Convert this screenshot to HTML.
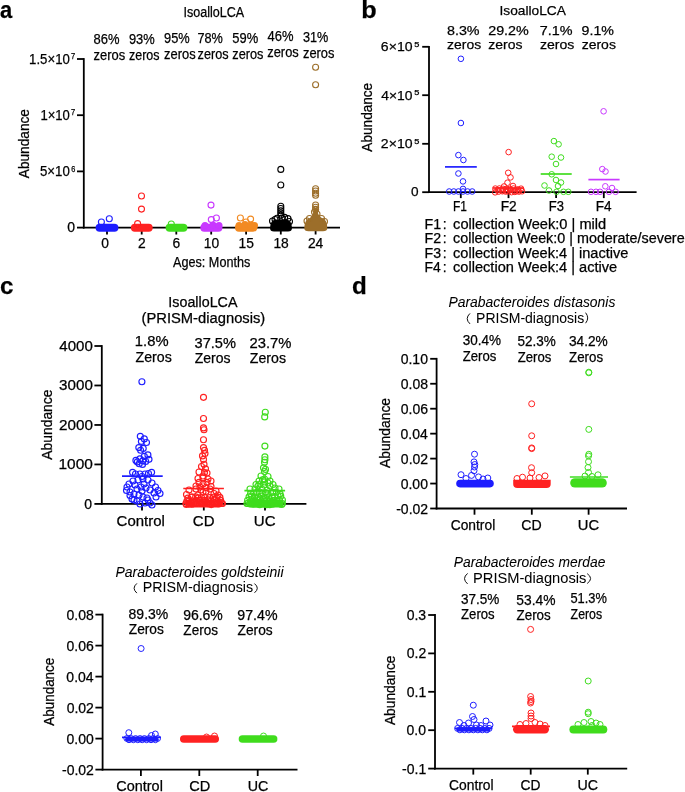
<!DOCTYPE html>
<html><head><meta charset="utf-8"><style>
html,body{margin:0;padding:0;background:#fff;}
svg{display:block;will-change:transform;}
text{font-family:"Liberation Sans", sans-serif;stroke:#000;stroke-width:0.25px;}
text.lt{stroke-width:0.05px;}
</style></head><body>
<svg width="685" height="792" viewBox="0 0 685 792">
<defs><filter id="soft" filterUnits="userSpaceOnUse" x="0" y="0" width="685" height="792"><feGaussianBlur stdDeviation="0.3"/></filter></defs>
<rect width="685" height="792" fill="#fff"/>
<g filter="url(#soft)">
<text x="0.06" y="17.60" font-size="24" font-weight="bold" textLength="12.20" lengthAdjust="spacingAndGlyphs">a</text>
<line x1="83.80" y1="58.10" x2="83.80" y2="228.50" stroke="#000" stroke-width="1.8"/>
<line x1="82.90" y1="227.60" x2="340.00" y2="227.60" stroke="#000" stroke-width="1.8"/>
<line x1="77.00" y1="59.00" x2="83.80" y2="59.00" stroke="#000" stroke-width="1.8"/>
<line x1="77.00" y1="115.20" x2="83.80" y2="115.20" stroke="#000" stroke-width="1.8"/>
<line x1="77.00" y1="171.40" x2="83.80" y2="171.40" stroke="#000" stroke-width="1.8"/>
<line x1="77.00" y1="227.60" x2="83.80" y2="227.60" stroke="#000" stroke-width="1.8"/>
<line x1="107.00" y1="227.60" x2="107.00" y2="234.50" stroke="#000" stroke-width="1.8"/>
<line x1="141.70" y1="227.60" x2="141.70" y2="234.50" stroke="#000" stroke-width="1.8"/>
<line x1="176.30" y1="227.60" x2="176.30" y2="234.50" stroke="#000" stroke-width="1.8"/>
<line x1="211.20" y1="227.60" x2="211.20" y2="234.50" stroke="#000" stroke-width="1.8"/>
<line x1="246.10" y1="227.60" x2="246.10" y2="234.50" stroke="#000" stroke-width="1.8"/>
<line x1="280.80" y1="227.60" x2="280.80" y2="234.50" stroke="#000" stroke-width="1.8"/>
<line x1="315.60" y1="227.60" x2="315.60" y2="234.50" stroke="#000" stroke-width="1.8"/>
<text x="29.10" y="63.60" font-size="14" textLength="40.72" lengthAdjust="spacingAndGlyphs">1.5×10</text>
<text x="71.12" y="59.20" font-size="8.4" textLength="4.16" lengthAdjust="spacingAndGlyphs">7</text>
<text x="40.41" y="119.80" font-size="14" textLength="29.40" lengthAdjust="spacingAndGlyphs">1×10</text>
<text x="71.12" y="115.40" font-size="8.4" textLength="4.16" lengthAdjust="spacingAndGlyphs">7</text>
<text x="39.97" y="176.00" font-size="14" textLength="29.85" lengthAdjust="spacingAndGlyphs">5×10</text>
<text x="71.13" y="171.60" font-size="8.4" textLength="4.10" lengthAdjust="spacingAndGlyphs">6</text>
<text x="67.36" y="232.20" font-size="14">0</text>
<text x="101.26" y="248.00" font-size="13.8">0</text>
<text x="138.01" y="248.00" font-size="13.8">2</text>
<text x="172.42" y="248.00" font-size="13.8">6</text>
<text x="203.77" y="248.00" font-size="13.8">10</text>
<text x="238.59" y="248.00" font-size="13.8">15</text>
<text x="273.40" y="248.00" font-size="13.8">18</text>
<text x="307.88" y="248.00" font-size="13.8">24</text>
<text x="173.08" y="267.00" font-size="13.8" textLength="77.18" lengthAdjust="spacingAndGlyphs">Ages: Months</text>
<text x="0" y="0" font-size="13.8" transform="translate(28.70,178.18) rotate(-90)" textLength="69.13" lengthAdjust="spacingAndGlyphs">Abundance</text>
<text x="183.44" y="16.90" font-size="14" textLength="60.68" lengthAdjust="spacingAndGlyphs">IsoalloLCA</text>
<text x="93.54" y="43.80" font-size="13.8" textLength="25.92" lengthAdjust="spacingAndGlyphs">86%</text>
<text x="93.57" y="59.80" font-size="13.8" textLength="31.69" lengthAdjust="spacingAndGlyphs">zeros</text>
<text x="128.90" y="43.80" font-size="13.8" textLength="25.76" lengthAdjust="spacingAndGlyphs">93%</text>
<text x="128.99" y="59.80" font-size="13.8" textLength="30.56" lengthAdjust="spacingAndGlyphs">zeros</text>
<text x="164.00" y="42.70" font-size="13.8" textLength="25.66" lengthAdjust="spacingAndGlyphs">95%</text>
<text x="164.08" y="58.70" font-size="13.8" textLength="31.59" lengthAdjust="spacingAndGlyphs">zeros</text>
<text x="197.45" y="42.70" font-size="13.8" textLength="25.40" lengthAdjust="spacingAndGlyphs">78%</text>
<text x="197.59" y="58.70" font-size="13.8" textLength="30.97" lengthAdjust="spacingAndGlyphs">zeros</text>
<text x="232.28" y="42.80" font-size="13.8" textLength="25.88" lengthAdjust="spacingAndGlyphs">59%</text>
<text x="232.28" y="58.80" font-size="13.8" textLength="31.18" lengthAdjust="spacingAndGlyphs">zeros</text>
<text x="267.50" y="41.20" font-size="13.8" textLength="25.96" lengthAdjust="spacingAndGlyphs">46%</text>
<text x="267.28" y="57.20" font-size="13.8" textLength="31.49" lengthAdjust="spacingAndGlyphs">zeros</text>
<text x="303.02" y="41.70" font-size="13.8" textLength="25.33" lengthAdjust="spacingAndGlyphs">31%</text>
<text x="302.98" y="57.70" font-size="13.8" textLength="31.49" lengthAdjust="spacingAndGlyphs">zeros</text>
<rect x="95.60" y="223.70" width="22.80" height="8.00" rx="4.00" fill="#1f1fff"/>
<circle cx="109.30" cy="218.80" r="3.00" fill="none" stroke="#1f1fff" stroke-width="1.1"/>
<circle cx="101.40" cy="222.00" r="3.00" fill="none" stroke="#1f1fff" stroke-width="1.1"/>
<rect x="130.90" y="223.70" width="21.80" height="8.00" rx="4.00" fill="#ff2020"/>
<circle cx="141.50" cy="196.00" r="3.00" fill="none" stroke="#ff2020" stroke-width="1.1"/>
<circle cx="141.50" cy="209.10" r="3.00" fill="none" stroke="#ff2020" stroke-width="1.1"/>
<circle cx="137.60" cy="223.60" r="3.00" fill="none" stroke="#ff2020" stroke-width="1.1"/>
<rect x="165.60" y="223.70" width="21.80" height="8.00" rx="4.00" fill="#3fdc1f"/>
<circle cx="171.30" cy="224.00" r="3.00" fill="none" stroke="#3fdc1f" stroke-width="1.1"/>
<rect x="200.30" y="223.70" width="22.10" height="8.00" rx="4.00" fill="#c837ff"/>
<circle cx="211.00" cy="205.10" r="3.00" fill="none" stroke="#c837ff" stroke-width="1.1"/>
<circle cx="216.40" cy="218.00" r="3.00" fill="none" stroke="#c837ff" stroke-width="1.1"/>
<circle cx="211.30" cy="219.60" r="3.00" fill="none" stroke="#c837ff" stroke-width="1.1"/>
<circle cx="205" cy="225.5" r="3.5" fill="#c837ff"/>
<circle cx="213" cy="225" r="3.5" fill="#c837ff"/>
<circle cx="219" cy="225.5" r="3.5" fill="#c837ff"/>
<rect x="235.00" y="223.70" width="22.20" height="8.00" rx="4.00" fill="#f28a22"/>
<circle cx="240.40" cy="218.00" r="3.00" fill="none" stroke="#f28a22" stroke-width="1.1"/>
<circle cx="250.60" cy="219.10" r="3.00" fill="none" stroke="#f28a22" stroke-width="1.1"/>
<circle cx="246.00" cy="222.00" r="3.00" fill="none" stroke="#f28a22" stroke-width="1.1"/>
<circle cx="239" cy="225.5" r="3.5" fill="#f28a22"/>
<circle cx="245" cy="224.5" r="3.5" fill="#f28a22"/>
<circle cx="251" cy="225" r="3.5" fill="#f28a22"/>
<circle cx="254.5" cy="225.5" r="3.5" fill="#f28a22"/>
<path d="M270,228 Q270,220 276,219.5 L286,219.5 Q292,220 292,228 Q292,231.5 288,231.5 L274,231.5 Q270,231.5 270,228 Z" fill="#000"/>
<circle cx="280.80" cy="169.40" r="3.00" fill="none" stroke="#000" stroke-width="1.1"/>
<circle cx="280.80" cy="185.00" r="3.00" fill="none" stroke="#000" stroke-width="1.1"/>
<circle cx="280.80" cy="206.30" r="3.00" fill="none" stroke="#000" stroke-width="1.1"/>
<circle cx="280.80" cy="208.50" r="3.00" fill="none" stroke="#000" stroke-width="1.1"/>
<circle cx="280.80" cy="210.80" r="3.00" fill="none" stroke="#000" stroke-width="1.1"/>
<circle cx="280.80" cy="213.00" r="3.00" fill="none" stroke="#000" stroke-width="1.1"/>
<circle cx="280.80" cy="215.20" r="3.00" fill="none" stroke="#000" stroke-width="1.1"/>
<circle cx="277.00" cy="218.30" r="3.00" fill="none" stroke="#000" stroke-width="1.1"/>
<circle cx="284.60" cy="217.40" r="3.00" fill="none" stroke="#000" stroke-width="1.1"/>
<circle cx="288.00" cy="218.60" r="3.00" fill="none" stroke="#000" stroke-width="1.1"/>
<circle cx="275.00" cy="219.50" r="3.00" fill="none" stroke="#000" stroke-width="1.1"/>
<circle cx="272.50" cy="221.00" r="3.00" fill="none" stroke="#000" stroke-width="1.1"/>
<circle cx="289.50" cy="221.50" r="3.00" fill="none" stroke="#000" stroke-width="1.1"/>
<circle cx="282.00" cy="218.00" r="3.00" fill="none" stroke="#000" stroke-width="1.1"/>
<path d="M304.3,228 Q304.3,219.5 310,218 L313,214 L313.5,208 L317.8,208 L318.2,214 L321,217.5 Q327.3,219 327.3,228 Q327.3,231.3 323,231.3 L308.5,231.3 Q304.3,231.3 304.3,228 Z" fill="#9c6e2a"/>
<circle cx="315.60" cy="67.30" r="3.00" fill="none" stroke="#9c6e2a" stroke-width="1.1"/>
<circle cx="315.60" cy="84.80" r="3.00" fill="none" stroke="#9c6e2a" stroke-width="1.1"/>
<circle cx="315.60" cy="188.80" r="3.00" fill="none" stroke="#9c6e2a" stroke-width="1.1"/>
<circle cx="315.60" cy="191.00" r="3.00" fill="none" stroke="#9c6e2a" stroke-width="1.1"/>
<circle cx="315.60" cy="193.20" r="3.00" fill="none" stroke="#9c6e2a" stroke-width="1.1"/>
<circle cx="315.60" cy="195.30" r="3.00" fill="none" stroke="#9c6e2a" stroke-width="1.1"/>
<circle cx="315.60" cy="205.00" r="3.00" fill="none" stroke="#9c6e2a" stroke-width="1.1"/>
<circle cx="315.60" cy="207.20" r="3.00" fill="none" stroke="#9c6e2a" stroke-width="1.1"/>
<circle cx="315.60" cy="209.40" r="3.00" fill="none" stroke="#9c6e2a" stroke-width="1.1"/>
<circle cx="314.50" cy="212.00" r="3.00" fill="none" stroke="#9c6e2a" stroke-width="1.1"/>
<circle cx="317.00" cy="214.00" r="3.00" fill="none" stroke="#9c6e2a" stroke-width="1.1"/>
<circle cx="309.50" cy="218.50" r="3.00" fill="none" stroke="#9c6e2a" stroke-width="1.1"/>
<circle cx="321.50" cy="218.50" r="3.00" fill="none" stroke="#9c6e2a" stroke-width="1.1"/>
<circle cx="307.00" cy="221.00" r="3.00" fill="none" stroke="#9c6e2a" stroke-width="1.1"/>
<circle cx="324.50" cy="221.50" r="3.00" fill="none" stroke="#9c6e2a" stroke-width="1.1"/>
<text x="361.34" y="17.80" font-size="24" font-weight="bold" textLength="15.40" lengthAdjust="spacingAndGlyphs">b</text>
<line x1="429.00" y1="45.90" x2="429.00" y2="193.10" stroke="#000" stroke-width="1.8"/>
<line x1="428.10" y1="192.20" x2="636.60" y2="192.20" stroke="#000" stroke-width="1.8"/>
<line x1="422.20" y1="46.80" x2="429.00" y2="46.80" stroke="#000" stroke-width="1.8"/>
<line x1="422.20" y1="95.20" x2="429.00" y2="95.20" stroke="#000" stroke-width="1.8"/>
<line x1="422.20" y1="143.80" x2="429.00" y2="143.80" stroke="#000" stroke-width="1.8"/>
<line x1="422.20" y1="192.20" x2="429.00" y2="192.20" stroke="#000" stroke-width="1.8"/>
<line x1="460.80" y1="192.20" x2="460.80" y2="198.10" stroke="#000" stroke-width="1.8"/>
<line x1="508.50" y1="192.20" x2="508.50" y2="198.10" stroke="#000" stroke-width="1.8"/>
<line x1="556.10" y1="192.20" x2="556.10" y2="198.10" stroke="#000" stroke-width="1.8"/>
<line x1="603.80" y1="192.20" x2="603.80" y2="198.10" stroke="#000" stroke-width="1.8"/>
<text x="380.89" y="51.20" font-size="13.6" textLength="31.66" lengthAdjust="spacingAndGlyphs">6×10</text>
<text x="414.23" y="46.90" font-size="7.0" textLength="5.16" lengthAdjust="spacingAndGlyphs">5</text>
<text x="381.28" y="99.60" font-size="13.6" textLength="31.26" lengthAdjust="spacingAndGlyphs">4×10</text>
<text x="414.23" y="95.30" font-size="7.0" textLength="5.16" lengthAdjust="spacingAndGlyphs">5</text>
<text x="380.89" y="148.20" font-size="13.6" textLength="31.66" lengthAdjust="spacingAndGlyphs">2×10</text>
<text x="414.23" y="143.90" font-size="7.0" textLength="5.16" lengthAdjust="spacingAndGlyphs">5</text>
<text x="411.07" y="196.00" font-size="13.6">0</text>
<text x="452.92" y="210.80" font-size="13.8" textLength="13.97" lengthAdjust="spacingAndGlyphs">F1</text>
<text x="500.67" y="210.80" font-size="13.8" textLength="16.02" lengthAdjust="spacingAndGlyphs">F2</text>
<text x="548.84" y="210.80" font-size="13.8" textLength="15.13" lengthAdjust="spacingAndGlyphs">F3</text>
<text x="595.79" y="210.80" font-size="13.8" textLength="15.81" lengthAdjust="spacingAndGlyphs">F4</text>
<text x="0" y="0" font-size="13.8" transform="translate(371.50,151.63) rotate(-90)" textLength="68.83" lengthAdjust="spacingAndGlyphs">Abundance</text>
<text x="499.53" y="15.10" font-size="13.6" textLength="66.39" lengthAdjust="spacingAndGlyphs">IsoalloLCA</text>
<text x="446.98" y="34.60" font-size="13.6" textLength="32.63" lengthAdjust="spacingAndGlyphs">8.3%</text>
<text x="447.04" y="49.00" font-size="13.6" textLength="34.07" lengthAdjust="spacingAndGlyphs">zeros</text>
<text x="488.18" y="34.60" font-size="13.6" textLength="40.63" lengthAdjust="spacingAndGlyphs">29.2%</text>
<text x="488.33" y="49.00" font-size="13.6" textLength="34.17" lengthAdjust="spacingAndGlyphs">zeros</text>
<text x="539.76" y="34.60" font-size="13.6" textLength="32.75" lengthAdjust="spacingAndGlyphs">7.1%</text>
<text x="539.93" y="49.00" font-size="13.6" textLength="34.38" lengthAdjust="spacingAndGlyphs">zeros</text>
<text x="581.63" y="34.60" font-size="13.6" textLength="32.37" lengthAdjust="spacingAndGlyphs">9.1%</text>
<text x="581.73" y="49.00" font-size="13.6" textLength="34.17" lengthAdjust="spacingAndGlyphs">zeros</text>
<text x="424.54" y="228.90" font-size="13.8" textLength="16.56" lengthAdjust="spacingAndGlyphs">F1</text>
<text x="442.84" y="228.90" font-size="13.8">:</text>
<text x="453.08" y="228.90" font-size="13.8" textLength="153.16" lengthAdjust="spacingAndGlyphs">collection Week:0 | mild</text>
<text x="424.53" y="243.20" font-size="13.8" textLength="16.58" lengthAdjust="spacingAndGlyphs">F2</text>
<text x="442.84" y="243.20" font-size="13.8">:</text>
<text x="453.09" y="243.20" font-size="13.8" textLength="231.55" lengthAdjust="spacingAndGlyphs">collection Week:0 | moderate/severe</text>
<text x="424.54" y="257.50" font-size="13.8" textLength="16.48" lengthAdjust="spacingAndGlyphs">F3</text>
<text x="442.84" y="257.50" font-size="13.8">:</text>
<text x="453.08" y="257.50" font-size="13.8" textLength="175.37" lengthAdjust="spacingAndGlyphs">collection Week:4 | inactive</text>
<text x="424.56" y="272.00" font-size="13.8" textLength="16.25" lengthAdjust="spacingAndGlyphs">F4</text>
<text x="442.84" y="272.00" font-size="13.8">:</text>
<text x="453.08" y="272.00" font-size="13.8" textLength="164.07" lengthAdjust="spacingAndGlyphs">collection Week:4 | active</text>
<line x1="445.00" y1="166.90" x2="476.80" y2="166.90" stroke="#1f1fff" stroke-width="1.7"/>
<circle cx="460.90" cy="58.80" r="2.80" fill="none" stroke="#1f1fff" stroke-width="1.0"/>
<circle cx="460.90" cy="123.00" r="2.80" fill="none" stroke="#1f1fff" stroke-width="1.0"/>
<circle cx="458.40" cy="155.10" r="2.80" fill="none" stroke="#1f1fff" stroke-width="1.0"/>
<circle cx="463.40" cy="160.00" r="2.80" fill="none" stroke="#1f1fff" stroke-width="1.0"/>
<circle cx="458.40" cy="173.50" r="2.80" fill="none" stroke="#1f1fff" stroke-width="1.0"/>
<circle cx="463.00" cy="181.40" r="2.80" fill="none" stroke="#1f1fff" stroke-width="1.0"/>
<circle cx="463.00" cy="188.90" r="2.80" fill="none" stroke="#1f1fff" stroke-width="1.0"/>
<circle cx="449.20" cy="191.50" r="2.80" fill="none" stroke="#1f1fff" stroke-width="1.0"/>
<circle cx="453.80" cy="191.50" r="2.80" fill="none" stroke="#1f1fff" stroke-width="1.0"/>
<circle cx="458.40" cy="191.50" r="2.80" fill="none" stroke="#1f1fff" stroke-width="1.0"/>
<circle cx="463.00" cy="191.50" r="2.80" fill="none" stroke="#1f1fff" stroke-width="1.0"/>
<circle cx="467.60" cy="191.50" r="2.80" fill="none" stroke="#1f1fff" stroke-width="1.0"/>
<circle cx="472.20" cy="191.50" r="2.80" fill="none" stroke="#1f1fff" stroke-width="1.0"/>
<line x1="493.00" y1="188.00" x2="524.00" y2="188.00" stroke="#ff2020" stroke-width="1.7"/>
<circle cx="508.60" cy="152.10" r="2.80" fill="none" stroke="#ff2020" stroke-width="1.0"/>
<circle cx="508.20" cy="172.80" r="2.80" fill="none" stroke="#ff2020" stroke-width="1.0"/>
<circle cx="510.50" cy="177.40" r="2.80" fill="none" stroke="#ff2020" stroke-width="1.0"/>
<circle cx="507.50" cy="182.70" r="2.80" fill="none" stroke="#ff2020" stroke-width="1.0"/>
<circle cx="504.00" cy="186.50" r="2.80" fill="none" stroke="#ff2020" stroke-width="1.0"/>
<circle cx="513.00" cy="186.00" r="2.80" fill="none" stroke="#ff2020" stroke-width="1.0"/>
<circle cx="495.29" cy="188.58" r="2.80" fill="none" stroke="#ff2020" stroke-width="1.0"/>
<circle cx="499.40" cy="188.49" r="2.80" fill="none" stroke="#ff2020" stroke-width="1.0"/>
<circle cx="502.97" cy="188.84" r="2.80" fill="none" stroke="#ff2020" stroke-width="1.0"/>
<circle cx="506.11" cy="189.01" r="2.80" fill="none" stroke="#ff2020" stroke-width="1.0"/>
<circle cx="509.80" cy="188.92" r="2.80" fill="none" stroke="#ff2020" stroke-width="1.0"/>
<circle cx="513.56" cy="188.51" r="2.80" fill="none" stroke="#ff2020" stroke-width="1.0"/>
<circle cx="517.70" cy="189.39" r="2.80" fill="none" stroke="#ff2020" stroke-width="1.0"/>
<circle cx="521.05" cy="188.67" r="2.80" fill="none" stroke="#ff2020" stroke-width="1.0"/>
<circle cx="495.15" cy="192.34" r="2.80" fill="none" stroke="#ff2020" stroke-width="1.0"/>
<circle cx="498.47" cy="191.68" r="2.80" fill="none" stroke="#ff2020" stroke-width="1.0"/>
<circle cx="502.32" cy="191.26" r="2.80" fill="none" stroke="#ff2020" stroke-width="1.0"/>
<circle cx="505.56" cy="191.55" r="2.80" fill="none" stroke="#ff2020" stroke-width="1.0"/>
<circle cx="508.07" cy="191.34" r="2.80" fill="none" stroke="#ff2020" stroke-width="1.0"/>
<circle cx="511.65" cy="192.18" r="2.80" fill="none" stroke="#ff2020" stroke-width="1.0"/>
<circle cx="514.87" cy="191.90" r="2.80" fill="none" stroke="#ff2020" stroke-width="1.0"/>
<circle cx="518.79" cy="191.65" r="2.80" fill="none" stroke="#ff2020" stroke-width="1.0"/>
<circle cx="522.06" cy="191.28" r="2.80" fill="none" stroke="#ff2020" stroke-width="1.0"/>
<circle cx="497.97" cy="190.15" r="2.80" fill="none" stroke="#ff2020" stroke-width="1.0"/>
<circle cx="502.72" cy="190.41" r="2.80" fill="none" stroke="#ff2020" stroke-width="1.0"/>
<circle cx="506.28" cy="190.60" r="2.80" fill="none" stroke="#ff2020" stroke-width="1.0"/>
<circle cx="510.44" cy="190.26" r="2.80" fill="none" stroke="#ff2020" stroke-width="1.0"/>
<circle cx="514.85" cy="190.74" r="2.80" fill="none" stroke="#ff2020" stroke-width="1.0"/>
<circle cx="518.19" cy="190.59" r="2.80" fill="none" stroke="#ff2020" stroke-width="1.0"/>
<line x1="540.70" y1="174.00" x2="571.70" y2="174.00" stroke="#3fdc1f" stroke-width="1.7"/>
<circle cx="553.90" cy="141.10" r="2.80" fill="none" stroke="#3fdc1f" stroke-width="1.0"/>
<circle cx="558.60" cy="144.30" r="2.80" fill="none" stroke="#3fdc1f" stroke-width="1.0"/>
<circle cx="551.70" cy="156.70" r="2.80" fill="none" stroke="#3fdc1f" stroke-width="1.0"/>
<circle cx="561.00" cy="157.50" r="2.80" fill="none" stroke="#3fdc1f" stroke-width="1.0"/>
<circle cx="556.00" cy="164.00" r="2.80" fill="none" stroke="#3fdc1f" stroke-width="1.0"/>
<circle cx="551.70" cy="174.30" r="2.80" fill="none" stroke="#3fdc1f" stroke-width="1.0"/>
<circle cx="556.00" cy="180.00" r="2.80" fill="none" stroke="#3fdc1f" stroke-width="1.0"/>
<circle cx="561.00" cy="182.50" r="2.80" fill="none" stroke="#3fdc1f" stroke-width="1.0"/>
<circle cx="558.00" cy="186.00" r="2.80" fill="none" stroke="#3fdc1f" stroke-width="1.0"/>
<circle cx="544.50" cy="185.50" r="2.80" fill="none" stroke="#3fdc1f" stroke-width="1.0"/>
<circle cx="549.00" cy="190.50" r="2.80" fill="none" stroke="#3fdc1f" stroke-width="1.0"/>
<circle cx="556.50" cy="191.80" r="2.80" fill="none" stroke="#3fdc1f" stroke-width="1.0"/>
<circle cx="563.50" cy="191.80" r="2.80" fill="none" stroke="#3fdc1f" stroke-width="1.0"/>
<circle cx="568.30" cy="191.80" r="2.80" fill="none" stroke="#3fdc1f" stroke-width="1.0"/>
<line x1="588.40" y1="179.60" x2="619.60" y2="179.60" stroke="#c837ff" stroke-width="1.7"/>
<circle cx="603.60" cy="111.30" r="2.80" fill="none" stroke="#c837ff" stroke-width="1.0"/>
<circle cx="602.30" cy="169.10" r="2.80" fill="none" stroke="#c837ff" stroke-width="1.0"/>
<circle cx="605.50" cy="171.50" r="2.80" fill="none" stroke="#c837ff" stroke-width="1.0"/>
<circle cx="605.30" cy="186.30" r="2.80" fill="none" stroke="#c837ff" stroke-width="1.0"/>
<circle cx="612.00" cy="188.00" r="2.80" fill="none" stroke="#c837ff" stroke-width="1.0"/>
<circle cx="591.00" cy="191.80" r="2.80" fill="none" stroke="#c837ff" stroke-width="1.0"/>
<circle cx="596.00" cy="191.80" r="2.80" fill="none" stroke="#c837ff" stroke-width="1.0"/>
<circle cx="600.00" cy="191.80" r="2.80" fill="none" stroke="#c837ff" stroke-width="1.0"/>
<circle cx="609.00" cy="191.80" r="2.80" fill="none" stroke="#c837ff" stroke-width="1.0"/>
<circle cx="615.60" cy="191.80" r="2.80" fill="none" stroke="#c837ff" stroke-width="1.0"/>
<text x="-0.04" y="293.80" font-size="24" font-weight="bold" textLength="13.45" lengthAdjust="spacingAndGlyphs">c</text>
<line x1="101.80" y1="345.10" x2="101.80" y2="504.80" stroke="#000" stroke-width="1.8"/>
<line x1="100.90" y1="503.90" x2="306.40" y2="503.90" stroke="#000" stroke-width="1.8"/>
<line x1="94.40" y1="346.00" x2="101.80" y2="346.00" stroke="#000" stroke-width="1.8"/>
<line x1="94.40" y1="385.48" x2="101.80" y2="385.48" stroke="#000" stroke-width="1.8"/>
<line x1="94.40" y1="424.96" x2="101.80" y2="424.96" stroke="#000" stroke-width="1.8"/>
<line x1="94.40" y1="464.44" x2="101.80" y2="464.44" stroke="#000" stroke-width="1.8"/>
<line x1="94.40" y1="503.92" x2="101.80" y2="503.92" stroke="#000" stroke-width="1.8"/>
<line x1="142.00" y1="503.90" x2="142.00" y2="510.50" stroke="#000" stroke-width="1.8"/>
<line x1="203.80" y1="503.90" x2="203.80" y2="510.50" stroke="#000" stroke-width="1.8"/>
<line x1="265.00" y1="503.90" x2="265.00" y2="510.50" stroke="#000" stroke-width="1.8"/>
<text x="59.35" y="350.90" font-size="14" textLength="33.53" lengthAdjust="spacingAndGlyphs">4000</text>
<text x="59.12" y="390.38" font-size="14" textLength="33.77" lengthAdjust="spacingAndGlyphs">3000</text>
<text x="58.93" y="429.86" font-size="14" textLength="33.96" lengthAdjust="spacingAndGlyphs">2000</text>
<text x="58.52" y="469.34" font-size="14" textLength="34.38" lengthAdjust="spacingAndGlyphs">1000</text>
<text x="84.36" y="508.82" font-size="14">0</text>
<text x="116.64" y="525.70" font-size="14" textLength="48.26" lengthAdjust="spacingAndGlyphs">Control</text>
<text x="192.84" y="525.70" font-size="14" textLength="21.68" lengthAdjust="spacingAndGlyphs">CD</text>
<text x="253.84" y="525.70" font-size="14" textLength="21.73" lengthAdjust="spacingAndGlyphs">UC</text>
<text x="0" y="0" font-size="14" transform="translate(51.50,459.63) rotate(-90)" textLength="70.04" lengthAdjust="spacingAndGlyphs">Abundance</text>
<text x="168.38" y="307.30" font-size="14" textLength="69.05" lengthAdjust="spacingAndGlyphs">IsoalloLCA</text>
<text x="141.48" y="322.70" font-size="14" textLength="123.83" lengthAdjust="spacingAndGlyphs">(PRISM-diagnosis)</text>
<text x="134.88" y="345.80" font-size="14" textLength="33.65" lengthAdjust="spacingAndGlyphs">1.8%</text>
<text x="135.55" y="361.50" font-size="14" textLength="36.26" lengthAdjust="spacingAndGlyphs">Zeros</text>
<text x="194.54" y="347.70" font-size="14" textLength="41.38" lengthAdjust="spacingAndGlyphs">37.5%</text>
<text x="194.65" y="363.40" font-size="14">Zeros</text>
<text x="249.56" y="347.70" font-size="14" textLength="41.97" lengthAdjust="spacingAndGlyphs">23.7%</text>
<text x="249.85" y="363.40" font-size="14" textLength="36.16" lengthAdjust="spacingAndGlyphs">Zeros</text>
<line x1="122.00" y1="476.10" x2="162.70" y2="476.10" stroke="#1f1fff" stroke-width="1.7"/>
<circle cx="141.90" cy="381.70" r="3.00" fill="none" stroke="#1f1fff" stroke-width="1.15"/>
<circle cx="140.30" cy="436.30" r="3.00" fill="none" stroke="#1f1fff" stroke-width="1.15"/>
<circle cx="144.30" cy="438.90" r="3.00" fill="none" stroke="#1f1fff" stroke-width="1.15"/>
<circle cx="146.50" cy="442.50" r="3.00" fill="none" stroke="#1f1fff" stroke-width="1.15"/>
<circle cx="141.40" cy="441.40" r="3.00" fill="none" stroke="#1f1fff" stroke-width="1.15"/>
<circle cx="138.80" cy="447.60" r="3.00" fill="none" stroke="#1f1fff" stroke-width="1.15"/>
<circle cx="143.20" cy="448.40" r="3.00" fill="none" stroke="#1f1fff" stroke-width="1.15"/>
<circle cx="140.60" cy="450.20" r="3.00" fill="none" stroke="#1f1fff" stroke-width="1.15"/>
<circle cx="147.90" cy="454.90" r="3.00" fill="none" stroke="#1f1fff" stroke-width="1.15"/>
<circle cx="144.30" cy="456.40" r="3.00" fill="none" stroke="#1f1fff" stroke-width="1.15"/>
<circle cx="135.90" cy="460.40" r="3.00" fill="none" stroke="#1f1fff" stroke-width="1.15"/>
<circle cx="139.90" cy="458.90" r="3.00" fill="none" stroke="#1f1fff" stroke-width="1.15"/>
<circle cx="142.80" cy="460.80" r="3.00" fill="none" stroke="#1f1fff" stroke-width="1.15"/>
<circle cx="149.00" cy="459.30" r="3.00" fill="none" stroke="#1f1fff" stroke-width="1.15"/>
<circle cx="139.20" cy="463.70" r="3.00" fill="none" stroke="#1f1fff" stroke-width="1.15"/>
<circle cx="142.50" cy="464.40" r="3.00" fill="none" stroke="#1f1fff" stroke-width="1.15"/>
<circle cx="145.70" cy="461.50" r="3.00" fill="none" stroke="#1f1fff" stroke-width="1.15"/>
<circle cx="137.30" cy="461.90" r="3.00" fill="none" stroke="#1f1fff" stroke-width="1.15"/>
<circle cx="132.60" cy="472.40" r="3.00" fill="none" stroke="#1f1fff" stroke-width="1.15"/>
<circle cx="151.60" cy="472.30" r="3.00" fill="none" stroke="#1f1fff" stroke-width="1.15"/>
<circle cx="135.50" cy="474.00" r="3.00" fill="none" stroke="#1f1fff" stroke-width="1.15"/>
<circle cx="139.90" cy="474.00" r="3.00" fill="none" stroke="#1f1fff" stroke-width="1.15"/>
<circle cx="145.00" cy="474.00" r="3.00" fill="none" stroke="#1f1fff" stroke-width="1.15"/>
<circle cx="148.50" cy="473.50" r="3.00" fill="none" stroke="#1f1fff" stroke-width="1.15"/>
<circle cx="142.00" cy="476.50" r="3.00" fill="none" stroke="#1f1fff" stroke-width="1.15"/>
<circle cx="127.00" cy="487.00" r="3.00" fill="none" stroke="#1f1fff" stroke-width="1.15"/>
<circle cx="126.50" cy="490.50" r="3.00" fill="none" stroke="#1f1fff" stroke-width="1.15"/>
<circle cx="129.00" cy="484.00" r="3.00" fill="none" stroke="#1f1fff" stroke-width="1.15"/>
<circle cx="133.00" cy="481.00" r="3.00" fill="none" stroke="#1f1fff" stroke-width="1.15"/>
<circle cx="138.00" cy="480.00" r="3.00" fill="none" stroke="#1f1fff" stroke-width="1.15"/>
<circle cx="143.00" cy="479.00" r="3.00" fill="none" stroke="#1f1fff" stroke-width="1.15"/>
<circle cx="148.00" cy="480.00" r="3.00" fill="none" stroke="#1f1fff" stroke-width="1.15"/>
<circle cx="152.00" cy="483.00" r="3.00" fill="none" stroke="#1f1fff" stroke-width="1.15"/>
<circle cx="155.50" cy="487.00" r="3.00" fill="none" stroke="#1f1fff" stroke-width="1.15"/>
<circle cx="158.00" cy="490.50" r="3.00" fill="none" stroke="#1f1fff" stroke-width="1.15"/>
<circle cx="160.00" cy="493.50" r="3.00" fill="none" stroke="#1f1fff" stroke-width="1.15"/>
<circle cx="130.00" cy="492.00" r="3.00" fill="none" stroke="#1f1fff" stroke-width="1.15"/>
<circle cx="134.00" cy="494.00" r="3.00" fill="none" stroke="#1f1fff" stroke-width="1.15"/>
<circle cx="137.00" cy="489.00" r="3.00" fill="none" stroke="#1f1fff" stroke-width="1.15"/>
<circle cx="141.00" cy="487.00" r="3.00" fill="none" stroke="#1f1fff" stroke-width="1.15"/>
<circle cx="146.00" cy="488.00" r="3.00" fill="none" stroke="#1f1fff" stroke-width="1.15"/>
<circle cx="150.00" cy="490.00" r="3.00" fill="none" stroke="#1f1fff" stroke-width="1.15"/>
<circle cx="154.00" cy="493.00" r="3.00" fill="none" stroke="#1f1fff" stroke-width="1.15"/>
<circle cx="139.00" cy="495.00" r="3.00" fill="none" stroke="#1f1fff" stroke-width="1.15"/>
<circle cx="143.00" cy="497.00" r="3.00" fill="none" stroke="#1f1fff" stroke-width="1.15"/>
<circle cx="147.00" cy="498.00" r="3.00" fill="none" stroke="#1f1fff" stroke-width="1.15"/>
<circle cx="134.00" cy="500.00" r="3.00" fill="none" stroke="#1f1fff" stroke-width="1.15"/>
<circle cx="137.00" cy="501.00" r="3.00" fill="none" stroke="#1f1fff" stroke-width="1.15"/>
<circle cx="132.00" cy="499.00" r="3.00" fill="none" stroke="#1f1fff" stroke-width="1.15"/>
<circle cx="145.00" cy="503.00" r="3.00" fill="none" stroke="#1f1fff" stroke-width="1.15"/>
<circle cx="150.00" cy="503.00" r="3.00" fill="none" stroke="#1f1fff" stroke-width="1.15"/>
<circle cx="152.00" cy="505.00" r="3.00" fill="none" stroke="#1f1fff" stroke-width="1.15"/>
<circle cx="140.00" cy="504.00" r="3.00" fill="none" stroke="#1f1fff" stroke-width="1.15"/>
<circle cx="148.00" cy="500.00" r="3.00" fill="none" stroke="#1f1fff" stroke-width="1.15"/>
<circle cx="135.00" cy="485.00" r="3.00" fill="none" stroke="#1f1fff" stroke-width="1.15"/>
<circle cx="144.00" cy="484.00" r="3.00" fill="none" stroke="#1f1fff" stroke-width="1.15"/>
<circle cx="156.00" cy="497.00" r="3.00" fill="none" stroke="#1f1fff" stroke-width="1.15"/>
<circle cx="130.00" cy="495.50" r="3.00" fill="none" stroke="#1f1fff" stroke-width="1.15"/>
<circle cx="142.00" cy="491.00" r="3.00" fill="none" stroke="#1f1fff" stroke-width="1.15"/>
<line x1="183.30" y1="488.50" x2="223.90" y2="488.50" stroke="#ff2020" stroke-width="1.7"/>
<rect x="185.00" y="499.80" width="38.20" height="7.60" rx="3.80" fill="#ff2020"/>
<circle cx="203.50" cy="397.30" r="3.00" fill="none" stroke="#ff2020" stroke-width="1.15"/>
<circle cx="203.50" cy="418.50" r="3.00" fill="none" stroke="#ff2020" stroke-width="1.15"/>
<circle cx="203.50" cy="427.90" r="3.00" fill="none" stroke="#ff2020" stroke-width="1.15"/>
<circle cx="204.00" cy="429.70" r="3.00" fill="none" stroke="#ff2020" stroke-width="1.15"/>
<circle cx="203.50" cy="439.70" r="3.00" fill="none" stroke="#ff2020" stroke-width="1.15"/>
<circle cx="203.50" cy="447.60" r="3.00" fill="none" stroke="#ff2020" stroke-width="1.15"/>
<circle cx="204.50" cy="450.30" r="3.00" fill="none" stroke="#ff2020" stroke-width="1.15"/>
<circle cx="205.00" cy="453.60" r="3.00" fill="none" stroke="#ff2020" stroke-width="1.15"/>
<circle cx="202.50" cy="455.90" r="3.00" fill="none" stroke="#ff2020" stroke-width="1.15"/>
<circle cx="203.50" cy="459.40" r="3.00" fill="none" stroke="#ff2020" stroke-width="1.15"/>
<circle cx="204.00" cy="464.20" r="3.00" fill="none" stroke="#ff2020" stroke-width="1.15"/>
<circle cx="201.50" cy="466.50" r="3.00" fill="none" stroke="#ff2020" stroke-width="1.15"/>
<circle cx="205.50" cy="468.80" r="3.00" fill="none" stroke="#ff2020" stroke-width="1.15"/>
<circle cx="204.50" cy="472.60" r="3.00" fill="none" stroke="#ff2020" stroke-width="1.15"/>
<circle cx="203.00" cy="477.90" r="3.00" fill="none" stroke="#ff2020" stroke-width="1.15"/>
<circle cx="199.00" cy="482.40" r="3.00" fill="none" stroke="#ff2020" stroke-width="1.15"/>
<circle cx="207.00" cy="482.40" r="3.00" fill="none" stroke="#ff2020" stroke-width="1.15"/>
<circle cx="211.00" cy="481.00" r="3.00" fill="none" stroke="#ff2020" stroke-width="1.15"/>
<circle cx="203.00" cy="484.00" r="3.00" fill="none" stroke="#ff2020" stroke-width="1.15"/>
<circle cx="200.00" cy="487.00" r="3.00" fill="none" stroke="#ff2020" stroke-width="1.15"/>
<circle cx="206.00" cy="487.50" r="3.00" fill="none" stroke="#ff2020" stroke-width="1.15"/>
<circle cx="196.00" cy="489.00" r="3.00" fill="none" stroke="#ff2020" stroke-width="1.15"/>
<circle cx="210.00" cy="489.00" r="3.00" fill="none" stroke="#ff2020" stroke-width="1.15"/>
<circle cx="186.50" cy="494.50" r="3.00" fill="none" stroke="#ff2020" stroke-width="1.15"/>
<circle cx="198.00" cy="495.00" r="3.00" fill="none" stroke="#ff2020" stroke-width="1.15"/>
<circle cx="218.00" cy="495.00" r="3.00" fill="none" stroke="#ff2020" stroke-width="1.15"/>
<circle cx="214.00" cy="493.50" r="3.00" fill="none" stroke="#ff2020" stroke-width="1.15"/>
<circle cx="192.00" cy="497.00" r="3.00" fill="none" stroke="#ff2020" stroke-width="1.15"/>
<circle cx="203.00" cy="492.00" r="3.00" fill="none" stroke="#ff2020" stroke-width="1.15"/>
<circle cx="187.84" cy="498.10" r="3.00" fill="none" stroke="#ff2020" stroke-width="1.15"/>
<circle cx="191.72" cy="497.16" r="3.00" fill="none" stroke="#ff2020" stroke-width="1.15"/>
<circle cx="195.68" cy="496.89" r="3.00" fill="none" stroke="#ff2020" stroke-width="1.15"/>
<circle cx="198.34" cy="497.91" r="3.00" fill="none" stroke="#ff2020" stroke-width="1.15"/>
<circle cx="201.47" cy="497.48" r="3.00" fill="none" stroke="#ff2020" stroke-width="1.15"/>
<circle cx="204.84" cy="497.77" r="3.00" fill="none" stroke="#ff2020" stroke-width="1.15"/>
<circle cx="209.56" cy="497.62" r="3.00" fill="none" stroke="#ff2020" stroke-width="1.15"/>
<circle cx="213.29" cy="497.20" r="3.00" fill="none" stroke="#ff2020" stroke-width="1.15"/>
<circle cx="216.56" cy="497.65" r="3.00" fill="none" stroke="#ff2020" stroke-width="1.15"/>
<circle cx="219.93" cy="497.43" r="3.00" fill="none" stroke="#ff2020" stroke-width="1.15"/>
<circle cx="186.84" cy="501.21" r="3.00" fill="none" stroke="#ff2020" stroke-width="1.15"/>
<circle cx="189.44" cy="500.76" r="3.00" fill="none" stroke="#ff2020" stroke-width="1.15"/>
<circle cx="191.96" cy="500.82" r="3.00" fill="none" stroke="#ff2020" stroke-width="1.15"/>
<circle cx="196.08" cy="501.29" r="3.00" fill="none" stroke="#ff2020" stroke-width="1.15"/>
<circle cx="199.54" cy="500.16" r="3.00" fill="none" stroke="#ff2020" stroke-width="1.15"/>
<circle cx="202.03" cy="500.77" r="3.00" fill="none" stroke="#ff2020" stroke-width="1.15"/>
<circle cx="204.63" cy="500.44" r="3.00" fill="none" stroke="#ff2020" stroke-width="1.15"/>
<circle cx="208.04" cy="499.89" r="3.00" fill="none" stroke="#ff2020" stroke-width="1.15"/>
<circle cx="211.05" cy="500.93" r="3.00" fill="none" stroke="#ff2020" stroke-width="1.15"/>
<circle cx="214.34" cy="500.10" r="3.00" fill="none" stroke="#ff2020" stroke-width="1.15"/>
<circle cx="217.94" cy="501.09" r="3.00" fill="none" stroke="#ff2020" stroke-width="1.15"/>
<circle cx="220.63" cy="500.42" r="3.00" fill="none" stroke="#ff2020" stroke-width="1.15"/>
<circle cx="185.88" cy="503.61" r="3.00" fill="none" stroke="#ff2020" stroke-width="1.15"/>
<circle cx="189.08" cy="503.58" r="3.00" fill="none" stroke="#ff2020" stroke-width="1.15"/>
<circle cx="190.98" cy="502.86" r="3.00" fill="none" stroke="#ff2020" stroke-width="1.15"/>
<circle cx="193.88" cy="503.61" r="3.00" fill="none" stroke="#ff2020" stroke-width="1.15"/>
<circle cx="197.61" cy="502.44" r="3.00" fill="none" stroke="#ff2020" stroke-width="1.15"/>
<circle cx="199.13" cy="502.57" r="3.00" fill="none" stroke="#ff2020" stroke-width="1.15"/>
<circle cx="201.99" cy="502.98" r="3.00" fill="none" stroke="#ff2020" stroke-width="1.15"/>
<circle cx="205.33" cy="502.62" r="3.00" fill="none" stroke="#ff2020" stroke-width="1.15"/>
<circle cx="207.16" cy="502.87" r="3.00" fill="none" stroke="#ff2020" stroke-width="1.15"/>
<circle cx="210.51" cy="503.11" r="3.00" fill="none" stroke="#ff2020" stroke-width="1.15"/>
<circle cx="214.22" cy="503.30" r="3.00" fill="none" stroke="#ff2020" stroke-width="1.15"/>
<circle cx="216.29" cy="503.19" r="3.00" fill="none" stroke="#ff2020" stroke-width="1.15"/>
<circle cx="219.31" cy="502.29" r="3.00" fill="none" stroke="#ff2020" stroke-width="1.15"/>
<circle cx="222.44" cy="503.45" r="3.00" fill="none" stroke="#ff2020" stroke-width="1.15"/>
<circle cx="186.40" cy="504.48" r="3.00" fill="none" stroke="#ff2020" stroke-width="1.15"/>
<circle cx="188.90" cy="503.84" r="3.00" fill="none" stroke="#ff2020" stroke-width="1.15"/>
<circle cx="191.71" cy="504.21" r="3.00" fill="none" stroke="#ff2020" stroke-width="1.15"/>
<circle cx="194.92" cy="503.31" r="3.00" fill="none" stroke="#ff2020" stroke-width="1.15"/>
<circle cx="198.42" cy="503.46" r="3.00" fill="none" stroke="#ff2020" stroke-width="1.15"/>
<circle cx="201.91" cy="503.28" r="3.00" fill="none" stroke="#ff2020" stroke-width="1.15"/>
<circle cx="204.64" cy="503.44" r="3.00" fill="none" stroke="#ff2020" stroke-width="1.15"/>
<circle cx="208.07" cy="503.78" r="3.00" fill="none" stroke="#ff2020" stroke-width="1.15"/>
<circle cx="211.22" cy="504.60" r="3.00" fill="none" stroke="#ff2020" stroke-width="1.15"/>
<circle cx="215.44" cy="503.44" r="3.00" fill="none" stroke="#ff2020" stroke-width="1.15"/>
<circle cx="218.13" cy="503.76" r="3.00" fill="none" stroke="#ff2020" stroke-width="1.15"/>
<circle cx="221.58" cy="503.40" r="3.00" fill="none" stroke="#ff2020" stroke-width="1.15"/>
<circle cx="199.00" cy="472.00" r="3.00" fill="none" stroke="#ff2020" stroke-width="1.15"/>
<circle cx="207.00" cy="473.00" r="3.00" fill="none" stroke="#ff2020" stroke-width="1.15"/>
<circle cx="203.00" cy="476.00" r="3.00" fill="none" stroke="#ff2020" stroke-width="1.15"/>
<circle cx="198.00" cy="478.50" r="3.00" fill="none" stroke="#ff2020" stroke-width="1.15"/>
<circle cx="208.00" cy="479.00" r="3.00" fill="none" stroke="#ff2020" stroke-width="1.15"/>
<circle cx="196.00" cy="486.00" r="3.00" fill="none" stroke="#ff2020" stroke-width="1.15"/>
<circle cx="211.00" cy="486.50" r="3.00" fill="none" stroke="#ff2020" stroke-width="1.15"/>
<circle cx="189.00" cy="490.00" r="3.00" fill="none" stroke="#ff2020" stroke-width="1.15"/>
<circle cx="216.00" cy="491.00" r="3.00" fill="none" stroke="#ff2020" stroke-width="1.15"/>
<circle cx="201.00" cy="490.00" r="3.00" fill="none" stroke="#ff2020" stroke-width="1.15"/>
<circle cx="206.00" cy="491.50" r="3.00" fill="none" stroke="#ff2020" stroke-width="1.15"/>
<line x1="244.40" y1="490.60" x2="285.10" y2="490.60" stroke="#3fdc1f" stroke-width="1.7"/>
<rect x="246.50" y="499.90" width="37.00" height="7.60" rx="3.80" fill="#3fdc1f"/>
<circle cx="265.30" cy="412.20" r="3.00" fill="none" stroke="#3fdc1f" stroke-width="1.15"/>
<circle cx="264.70" cy="416.90" r="3.00" fill="none" stroke="#3fdc1f" stroke-width="1.15"/>
<circle cx="264.90" cy="446.10" r="3.00" fill="none" stroke="#3fdc1f" stroke-width="1.15"/>
<circle cx="264.90" cy="456.90" r="3.00" fill="none" stroke="#3fdc1f" stroke-width="1.15"/>
<circle cx="264.90" cy="459.70" r="3.00" fill="none" stroke="#3fdc1f" stroke-width="1.15"/>
<circle cx="264.50" cy="462.20" r="3.00" fill="none" stroke="#3fdc1f" stroke-width="1.15"/>
<circle cx="263.50" cy="467.80" r="3.00" fill="none" stroke="#3fdc1f" stroke-width="1.15"/>
<circle cx="265.50" cy="469.40" r="3.00" fill="none" stroke="#3fdc1f" stroke-width="1.15"/>
<circle cx="264.50" cy="471.50" r="3.00" fill="none" stroke="#3fdc1f" stroke-width="1.15"/>
<circle cx="262.50" cy="479.90" r="3.00" fill="none" stroke="#3fdc1f" stroke-width="1.15"/>
<circle cx="264.50" cy="482.00" r="3.00" fill="none" stroke="#3fdc1f" stroke-width="1.15"/>
<circle cx="258.00" cy="486.00" r="3.00" fill="none" stroke="#3fdc1f" stroke-width="1.15"/>
<circle cx="270.00" cy="486.00" r="3.00" fill="none" stroke="#3fdc1f" stroke-width="1.15"/>
<circle cx="255.00" cy="489.00" r="3.00" fill="none" stroke="#3fdc1f" stroke-width="1.15"/>
<circle cx="275.00" cy="488.00" r="3.00" fill="none" stroke="#3fdc1f" stroke-width="1.15"/>
<circle cx="264.00" cy="485.00" r="3.00" fill="none" stroke="#3fdc1f" stroke-width="1.15"/>
<circle cx="260.00" cy="484.00" r="3.00" fill="none" stroke="#3fdc1f" stroke-width="1.15"/>
<circle cx="268.00" cy="483.00" r="3.00" fill="none" stroke="#3fdc1f" stroke-width="1.15"/>
<circle cx="250.56" cy="493.79" r="3.00" fill="none" stroke="#3fdc1f" stroke-width="1.15"/>
<circle cx="253.70" cy="492.97" r="3.00" fill="none" stroke="#3fdc1f" stroke-width="1.15"/>
<circle cx="256.84" cy="492.36" r="3.00" fill="none" stroke="#3fdc1f" stroke-width="1.15"/>
<circle cx="261.00" cy="492.62" r="3.00" fill="none" stroke="#3fdc1f" stroke-width="1.15"/>
<circle cx="265.53" cy="492.46" r="3.00" fill="none" stroke="#3fdc1f" stroke-width="1.15"/>
<circle cx="267.99" cy="493.72" r="3.00" fill="none" stroke="#3fdc1f" stroke-width="1.15"/>
<circle cx="272.55" cy="492.43" r="3.00" fill="none" stroke="#3fdc1f" stroke-width="1.15"/>
<circle cx="276.32" cy="492.24" r="3.00" fill="none" stroke="#3fdc1f" stroke-width="1.15"/>
<circle cx="280.04" cy="493.77" r="3.00" fill="none" stroke="#3fdc1f" stroke-width="1.15"/>
<circle cx="249.08" cy="496.81" r="3.00" fill="none" stroke="#3fdc1f" stroke-width="1.15"/>
<circle cx="251.42" cy="496.29" r="3.00" fill="none" stroke="#3fdc1f" stroke-width="1.15"/>
<circle cx="254.57" cy="496.94" r="3.00" fill="none" stroke="#3fdc1f" stroke-width="1.15"/>
<circle cx="258.45" cy="496.95" r="3.00" fill="none" stroke="#3fdc1f" stroke-width="1.15"/>
<circle cx="261.43" cy="496.06" r="3.00" fill="none" stroke="#3fdc1f" stroke-width="1.15"/>
<circle cx="265.50" cy="497.28" r="3.00" fill="none" stroke="#3fdc1f" stroke-width="1.15"/>
<circle cx="268.86" cy="496.99" r="3.00" fill="none" stroke="#3fdc1f" stroke-width="1.15"/>
<circle cx="272.11" cy="496.88" r="3.00" fill="none" stroke="#3fdc1f" stroke-width="1.15"/>
<circle cx="274.46" cy="496.53" r="3.00" fill="none" stroke="#3fdc1f" stroke-width="1.15"/>
<circle cx="277.97" cy="495.75" r="3.00" fill="none" stroke="#3fdc1f" stroke-width="1.15"/>
<circle cx="280.74" cy="496.15" r="3.00" fill="none" stroke="#3fdc1f" stroke-width="1.15"/>
<circle cx="247.61" cy="500.31" r="3.00" fill="none" stroke="#3fdc1f" stroke-width="1.15"/>
<circle cx="251.82" cy="499.92" r="3.00" fill="none" stroke="#3fdc1f" stroke-width="1.15"/>
<circle cx="254.88" cy="500.78" r="3.00" fill="none" stroke="#3fdc1f" stroke-width="1.15"/>
<circle cx="258.00" cy="499.78" r="3.00" fill="none" stroke="#3fdc1f" stroke-width="1.15"/>
<circle cx="259.92" cy="499.56" r="3.00" fill="none" stroke="#3fdc1f" stroke-width="1.15"/>
<circle cx="262.97" cy="499.53" r="3.00" fill="none" stroke="#3fdc1f" stroke-width="1.15"/>
<circle cx="266.74" cy="500.64" r="3.00" fill="none" stroke="#3fdc1f" stroke-width="1.15"/>
<circle cx="270.18" cy="499.97" r="3.00" fill="none" stroke="#3fdc1f" stroke-width="1.15"/>
<circle cx="272.97" cy="500.48" r="3.00" fill="none" stroke="#3fdc1f" stroke-width="1.15"/>
<circle cx="275.15" cy="500.26" r="3.00" fill="none" stroke="#3fdc1f" stroke-width="1.15"/>
<circle cx="279.56" cy="500.45" r="3.00" fill="none" stroke="#3fdc1f" stroke-width="1.15"/>
<circle cx="282.40" cy="499.96" r="3.00" fill="none" stroke="#3fdc1f" stroke-width="1.15"/>
<circle cx="246.99" cy="503.46" r="3.00" fill="none" stroke="#3fdc1f" stroke-width="1.15"/>
<circle cx="249.92" cy="503.48" r="3.00" fill="none" stroke="#3fdc1f" stroke-width="1.15"/>
<circle cx="253.64" cy="502.83" r="3.00" fill="none" stroke="#3fdc1f" stroke-width="1.15"/>
<circle cx="255.42" cy="503.71" r="3.00" fill="none" stroke="#3fdc1f" stroke-width="1.15"/>
<circle cx="258.63" cy="502.47" r="3.00" fill="none" stroke="#3fdc1f" stroke-width="1.15"/>
<circle cx="260.36" cy="502.44" r="3.00" fill="none" stroke="#3fdc1f" stroke-width="1.15"/>
<circle cx="264.30" cy="503.49" r="3.00" fill="none" stroke="#3fdc1f" stroke-width="1.15"/>
<circle cx="265.78" cy="503.52" r="3.00" fill="none" stroke="#3fdc1f" stroke-width="1.15"/>
<circle cx="269.81" cy="503.25" r="3.00" fill="none" stroke="#3fdc1f" stroke-width="1.15"/>
<circle cx="271.49" cy="503.08" r="3.00" fill="none" stroke="#3fdc1f" stroke-width="1.15"/>
<circle cx="273.83" cy="502.22" r="3.00" fill="none" stroke="#3fdc1f" stroke-width="1.15"/>
<circle cx="277.87" cy="503.24" r="3.00" fill="none" stroke="#3fdc1f" stroke-width="1.15"/>
<circle cx="279.85" cy="503.69" r="3.00" fill="none" stroke="#3fdc1f" stroke-width="1.15"/>
<circle cx="282.39" cy="503.59" r="3.00" fill="none" stroke="#3fdc1f" stroke-width="1.15"/>
<circle cx="248.02" cy="503.54" r="3.00" fill="none" stroke="#3fdc1f" stroke-width="1.15"/>
<circle cx="250.28" cy="503.67" r="3.00" fill="none" stroke="#3fdc1f" stroke-width="1.15"/>
<circle cx="253.45" cy="504.14" r="3.00" fill="none" stroke="#3fdc1f" stroke-width="1.15"/>
<circle cx="256.66" cy="503.87" r="3.00" fill="none" stroke="#3fdc1f" stroke-width="1.15"/>
<circle cx="259.64" cy="504.66" r="3.00" fill="none" stroke="#3fdc1f" stroke-width="1.15"/>
<circle cx="263.18" cy="503.93" r="3.00" fill="none" stroke="#3fdc1f" stroke-width="1.15"/>
<circle cx="266.72" cy="504.65" r="3.00" fill="none" stroke="#3fdc1f" stroke-width="1.15"/>
<circle cx="269.65" cy="504.67" r="3.00" fill="none" stroke="#3fdc1f" stroke-width="1.15"/>
<circle cx="272.96" cy="504.05" r="3.00" fill="none" stroke="#3fdc1f" stroke-width="1.15"/>
<circle cx="276.17" cy="503.23" r="3.00" fill="none" stroke="#3fdc1f" stroke-width="1.15"/>
<circle cx="279.22" cy="503.49" r="3.00" fill="none" stroke="#3fdc1f" stroke-width="1.15"/>
<circle cx="281.71" cy="504.48" r="3.00" fill="none" stroke="#3fdc1f" stroke-width="1.15"/>
<circle cx="261.00" cy="476.00" r="3.00" fill="none" stroke="#3fdc1f" stroke-width="1.15"/>
<circle cx="268.00" cy="476.50" r="3.00" fill="none" stroke="#3fdc1f" stroke-width="1.15"/>
<circle cx="264.50" cy="479.00" r="3.00" fill="none" stroke="#3fdc1f" stroke-width="1.15"/>
<circle cx="259.00" cy="481.00" r="3.00" fill="none" stroke="#3fdc1f" stroke-width="1.15"/>
<circle cx="270.00" cy="481.00" r="3.00" fill="none" stroke="#3fdc1f" stroke-width="1.15"/>
<circle cx="256.00" cy="484.50" r="3.00" fill="none" stroke="#3fdc1f" stroke-width="1.15"/>
<circle cx="273.00" cy="484.50" r="3.00" fill="none" stroke="#3fdc1f" stroke-width="1.15"/>
<circle cx="250.00" cy="489.00" r="3.00" fill="none" stroke="#3fdc1f" stroke-width="1.15"/>
<circle cx="279.00" cy="489.00" r="3.00" fill="none" stroke="#3fdc1f" stroke-width="1.15"/>
<circle cx="262.00" cy="489.00" r="3.00" fill="none" stroke="#3fdc1f" stroke-width="1.15"/>
<circle cx="267.00" cy="490.00" r="3.00" fill="none" stroke="#3fdc1f" stroke-width="1.15"/>
<text x="351.91" y="293.80" font-size="24" font-weight="bold" textLength="14.79" lengthAdjust="spacingAndGlyphs">d</text>
<line x1="436.60" y1="357.90" x2="436.60" y2="509.40" stroke="#000" stroke-width="1.8"/>
<line x1="435.70" y1="508.50" x2="627.00" y2="508.50" stroke="#000" stroke-width="1.8"/>
<line x1="430.20" y1="358.80" x2="436.60" y2="358.80" stroke="#000" stroke-width="1.8"/>
<line x1="430.20" y1="383.75" x2="436.60" y2="383.75" stroke="#000" stroke-width="1.8"/>
<line x1="430.20" y1="408.70" x2="436.60" y2="408.70" stroke="#000" stroke-width="1.8"/>
<line x1="430.20" y1="433.65" x2="436.60" y2="433.65" stroke="#000" stroke-width="1.8"/>
<line x1="430.20" y1="458.60" x2="436.60" y2="458.60" stroke="#000" stroke-width="1.8"/>
<line x1="430.20" y1="483.55" x2="436.60" y2="483.55" stroke="#000" stroke-width="1.8"/>
<line x1="430.20" y1="508.50" x2="436.60" y2="508.50" stroke="#000" stroke-width="1.8"/>
<line x1="474.50" y1="508.50" x2="474.50" y2="514.70" stroke="#000" stroke-width="1.8"/>
<line x1="531.80" y1="508.50" x2="531.80" y2="514.70" stroke="#000" stroke-width="1.8"/>
<line x1="588.60" y1="508.50" x2="588.60" y2="514.70" stroke="#000" stroke-width="1.8"/>
<text x="400.70" y="363.90" font-size="14">0.10</text>
<text x="400.76" y="388.85" font-size="14">0.08</text>
<text x="400.77" y="413.80" font-size="14">0.06</text>
<text x="400.56" y="438.75" font-size="14">0.04</text>
<text x="400.86" y="463.70" font-size="14">0.02</text>
<text x="400.70" y="488.65" font-size="14">0.00</text>
<text x="396.19" y="513.60" font-size="14">-0.02</text>
<text x="450.70" y="530.40" font-size="14" textLength="44.53" lengthAdjust="spacingAndGlyphs">Control</text>
<text x="521.28" y="530.40" font-size="14" textLength="20.39" lengthAdjust="spacingAndGlyphs">CD</text>
<text x="577.86" y="530.40" font-size="14" textLength="21.30" lengthAdjust="spacingAndGlyphs">UC</text>
<text x="0" y="0" font-size="14" transform="translate(389.70,468.03) rotate(-90)" textLength="70.04" lengthAdjust="spacingAndGlyphs">Abundance</text>
<text x="448.47" y="306.80" font-size="14" font-style="italic" class="lt" textLength="166.91" lengthAdjust="spacingAndGlyphs">Parabacteroides distasonis</text>
<path d="M470.00,313.40 Q464.40,318.65 470.00,323.90" fill="none" stroke="#111" stroke-width="1.0"/>
<text x="476.05" y="323.00" font-size="14" class="lt">PRISM-diagnosis</text>
<path d="M585.60,312.70 Q589.80,317.95 585.60,323.20" fill="none" stroke="#111" stroke-width="1.0"/>
<text x="462.69" y="345.20" font-size="14" textLength="38.30" lengthAdjust="spacingAndGlyphs">30.4%</text>
<text x="462.78" y="361.10" font-size="14" textLength="33.59" lengthAdjust="spacingAndGlyphs">Zeros</text>
<text x="517.56" y="346.40" font-size="14" textLength="38.32" lengthAdjust="spacingAndGlyphs">52.3%</text>
<text x="517.68" y="362.30" font-size="14" textLength="33.59" lengthAdjust="spacingAndGlyphs">Zeros</text>
<text x="568.98" y="346.40" font-size="14" textLength="38.81" lengthAdjust="spacingAndGlyphs">34.2%</text>
<text x="569.08" y="362.30" font-size="14" textLength="34.00" lengthAdjust="spacingAndGlyphs">Zeros</text>
<rect x="456.20" y="479.80" width="37.60" height="7.60" rx="3.80" fill="#1f1fff"/>
<circle cx="474.50" cy="454.20" r="3.00" fill="none" stroke="#1f1fff" stroke-width="1.0"/>
<circle cx="474.00" cy="461.90" r="3.00" fill="none" stroke="#1f1fff" stroke-width="1.0"/>
<circle cx="474.80" cy="464.50" r="3.00" fill="none" stroke="#1f1fff" stroke-width="1.0"/>
<circle cx="474.50" cy="467.00" r="3.00" fill="none" stroke="#1f1fff" stroke-width="1.0"/>
<circle cx="474.00" cy="470.70" r="3.00" fill="none" stroke="#1f1fff" stroke-width="1.0"/>
<circle cx="461.00" cy="474.70" r="3.00" fill="none" stroke="#1f1fff" stroke-width="1.0"/>
<circle cx="471.50" cy="475.40" r="3.00" fill="none" stroke="#1f1fff" stroke-width="1.0"/>
<circle cx="478.50" cy="476.90" r="3.00" fill="none" stroke="#1f1fff" stroke-width="1.0"/>
<circle cx="487.80" cy="478.00" r="3.00" fill="none" stroke="#1f1fff" stroke-width="1.0"/>
<circle cx="466.00" cy="478.50" r="3.00" fill="none" stroke="#1f1fff" stroke-width="1.0"/>
<circle cx="483.00" cy="479.00" r="3.00" fill="none" stroke="#1f1fff" stroke-width="1.0"/>
<path d="M513.2,479.7 L550.7,479.7 L550.7,484 Q550.7,487.9 546.5,487.9 L517.4,487.9 Q513.2,487.9 513.2,484 Z" fill="#ff2020"/>
<circle cx="531.70" cy="403.80" r="3.00" fill="none" stroke="#ff2020" stroke-width="1.0"/>
<circle cx="531.70" cy="435.80" r="3.00" fill="none" stroke="#ff2020" stroke-width="1.0"/>
<circle cx="531.70" cy="447.90" r="3.00" fill="none" stroke="#ff2020" stroke-width="1.0"/>
<circle cx="531.70" cy="448.60" r="3.00" fill="none" stroke="#ff2020" stroke-width="1.0"/>
<circle cx="531.50" cy="467.70" r="3.00" fill="none" stroke="#ff2020" stroke-width="1.0"/>
<circle cx="531.70" cy="472.70" r="3.00" fill="none" stroke="#ff2020" stroke-width="1.0"/>
<circle cx="522.50" cy="477.20" r="3.00" fill="none" stroke="#ff2020" stroke-width="1.0"/>
<circle cx="539.00" cy="477.50" r="3.00" fill="none" stroke="#ff2020" stroke-width="1.0"/>
<circle cx="545.00" cy="475.90" r="3.00" fill="none" stroke="#ff2020" stroke-width="1.0"/>
<circle cx="530.00" cy="478.00" r="3.00" fill="none" stroke="#ff2020" stroke-width="1.0"/>
<circle cx="517.00" cy="478.50" r="3.00" fill="none" stroke="#ff2020" stroke-width="1.0"/>
<line x1="569.90" y1="477.00" x2="608.00" y2="477.00" stroke="#3fdc1f" stroke-width="1.7"/>
<rect x="570.20" y="478.20" width="36.60" height="9.40" rx="4.70" fill="#3fdc1f"/>
<circle cx="588.80" cy="372.20" r="3.00" fill="none" stroke="#3fdc1f" stroke-width="1.0"/>
<circle cx="588.80" cy="372.80" r="3.00" fill="none" stroke="#3fdc1f" stroke-width="1.0"/>
<circle cx="588.80" cy="429.40" r="3.00" fill="none" stroke="#3fdc1f" stroke-width="1.0"/>
<circle cx="588.80" cy="454.30" r="3.00" fill="none" stroke="#3fdc1f" stroke-width="1.0"/>
<circle cx="588.50" cy="456.00" r="3.00" fill="none" stroke="#3fdc1f" stroke-width="1.0"/>
<circle cx="588.50" cy="461.70" r="3.00" fill="none" stroke="#3fdc1f" stroke-width="1.0"/>
<circle cx="588.00" cy="467.50" r="3.00" fill="none" stroke="#3fdc1f" stroke-width="1.0"/>
<circle cx="588.50" cy="472.40" r="3.00" fill="none" stroke="#3fdc1f" stroke-width="1.0"/>
<circle cx="598.00" cy="474.80" r="3.00" fill="none" stroke="#3fdc1f" stroke-width="1.0"/>
<circle cx="585.00" cy="476.00" r="3.00" fill="none" stroke="#3fdc1f" stroke-width="1.0"/>
<circle cx="592.00" cy="476.50" r="3.00" fill="none" stroke="#3fdc1f" stroke-width="1.0"/>
<line x1="102.60" y1="613.70" x2="102.60" y2="770.50" stroke="#000" stroke-width="1.8"/>
<line x1="101.70" y1="769.60" x2="297.50" y2="769.60" stroke="#000" stroke-width="1.8"/>
<line x1="95.40" y1="614.60" x2="102.60" y2="614.60" stroke="#000" stroke-width="1.8"/>
<line x1="95.40" y1="645.60" x2="102.60" y2="645.60" stroke="#000" stroke-width="1.8"/>
<line x1="95.40" y1="676.60" x2="102.60" y2="676.60" stroke="#000" stroke-width="1.8"/>
<line x1="95.40" y1="707.60" x2="102.60" y2="707.60" stroke="#000" stroke-width="1.8"/>
<line x1="95.40" y1="738.60" x2="102.60" y2="738.60" stroke="#000" stroke-width="1.8"/>
<line x1="95.40" y1="769.60" x2="102.60" y2="769.60" stroke="#000" stroke-width="1.8"/>
<line x1="140.90" y1="769.60" x2="140.90" y2="776.00" stroke="#000" stroke-width="1.8"/>
<line x1="199.30" y1="769.60" x2="199.30" y2="776.00" stroke="#000" stroke-width="1.8"/>
<line x1="257.70" y1="769.60" x2="257.70" y2="776.00" stroke="#000" stroke-width="1.8"/>
<text x="66.56" y="619.60" font-size="14">0.08</text>
<text x="66.57" y="650.60" font-size="14">0.06</text>
<text x="66.36" y="681.60" font-size="14">0.04</text>
<text x="66.66" y="712.60" font-size="14">0.02</text>
<text x="66.50" y="743.60" font-size="14">0.00</text>
<text x="61.99" y="774.60" font-size="14">-0.02</text>
<text x="116.27" y="790.70" font-size="14" textLength="46.60" lengthAdjust="spacingAndGlyphs">Control</text>
<text x="189.16" y="790.70" font-size="14" textLength="21.04" lengthAdjust="spacingAndGlyphs">CD</text>
<text x="247.80" y="790.70" font-size="14" textLength="20.65" lengthAdjust="spacingAndGlyphs">UC</text>
<text x="0" y="0" font-size="14" transform="translate(54.00,725.73) rotate(-90)" textLength="68.02" lengthAdjust="spacingAndGlyphs">Abundance</text>
<text x="115.47" y="576.80" font-size="14" font-style="italic" class="lt">Parabacteroides goldsteinii</text>
<path d="M136.90,583.40 Q131.30,588.25 136.90,593.10" fill="none" stroke="#111" stroke-width="1.0"/>
<text x="142.73" y="592.20" font-size="14" class="lt" textLength="110.39" lengthAdjust="spacingAndGlyphs">PRISM-diagnosis</text>
<path d="M254.50,583.60 Q260.10,588.20 254.50,592.80" fill="none" stroke="#111" stroke-width="1.0"/>
<text x="128.59" y="619.40" font-size="14">89.3%</text>
<text x="128.76" y="634.20" font-size="14" textLength="35.13" lengthAdjust="spacingAndGlyphs">Zeros</text>
<text x="183.14" y="620.30" font-size="14">96.6%</text>
<text x="183.37" y="635.10" font-size="14" textLength="34.62" lengthAdjust="spacingAndGlyphs">Zeros</text>
<text x="237.34" y="620.30" font-size="14" textLength="40.17" lengthAdjust="spacingAndGlyphs">97.4%</text>
<text x="237.56" y="635.10" font-size="14" textLength="35.13" lengthAdjust="spacingAndGlyphs">Zeros</text>
<rect x="125.00" y="737.40" width="33.30" height="4.00" rx="2.00" fill="#1f1fff"/>
<circle cx="126.80" cy="738.50" r="2.90" fill="none" stroke="#1f1fff" stroke-width="1.0"/>
<circle cx="129.00" cy="739.80" r="2.90" fill="none" stroke="#1f1fff" stroke-width="1.0"/>
<circle cx="131.20" cy="738.50" r="2.90" fill="none" stroke="#1f1fff" stroke-width="1.0"/>
<circle cx="133.40" cy="739.80" r="2.90" fill="none" stroke="#1f1fff" stroke-width="1.0"/>
<circle cx="135.60" cy="738.50" r="2.90" fill="none" stroke="#1f1fff" stroke-width="1.0"/>
<circle cx="137.80" cy="739.80" r="2.90" fill="none" stroke="#1f1fff" stroke-width="1.0"/>
<circle cx="140.00" cy="738.50" r="2.90" fill="none" stroke="#1f1fff" stroke-width="1.0"/>
<circle cx="142.20" cy="739.80" r="2.90" fill="none" stroke="#1f1fff" stroke-width="1.0"/>
<circle cx="144.40" cy="738.50" r="2.90" fill="none" stroke="#1f1fff" stroke-width="1.0"/>
<circle cx="146.60" cy="739.80" r="2.90" fill="none" stroke="#1f1fff" stroke-width="1.0"/>
<circle cx="148.80" cy="738.50" r="2.90" fill="none" stroke="#1f1fff" stroke-width="1.0"/>
<circle cx="151.00" cy="739.80" r="2.90" fill="none" stroke="#1f1fff" stroke-width="1.0"/>
<circle cx="153.20" cy="738.50" r="2.90" fill="none" stroke="#1f1fff" stroke-width="1.0"/>
<circle cx="155.40" cy="739.80" r="2.90" fill="none" stroke="#1f1fff" stroke-width="1.0"/>
<circle cx="157.60" cy="738.50" r="2.90" fill="none" stroke="#1f1fff" stroke-width="1.0"/>
<line x1="122.00" y1="737.40" x2="161.00" y2="737.40" stroke="#1f1fff" stroke-width="1.7"/>
<circle cx="141.10" cy="648.50" r="3.00" fill="none" stroke="#1f1fff" stroke-width="1.0"/>
<circle cx="128.80" cy="732.70" r="3.00" fill="none" stroke="#1f1fff" stroke-width="1.0"/>
<circle cx="155.30" cy="734.00" r="3.00" fill="none" stroke="#1f1fff" stroke-width="1.0"/>
<circle cx="151.50" cy="735.50" r="3.00" fill="none" stroke="#1f1fff" stroke-width="1.0"/>
<rect x="180.00" y="735.25" width="39.00" height="7.50" rx="3.75" fill="#ff2020"/>
<circle cx="214.50" cy="736.00" r="3.00" fill="none" stroke="#ff2020" stroke-width="1.0"/>
<circle cx="206.50" cy="737.00" r="3.00" fill="none" stroke="#ff2020" stroke-width="1.0"/>
<rect x="238.70" y="735.25" width="38.70" height="7.50" rx="3.75" fill="#3fdc1f"/>
<circle cx="263.50" cy="736.00" r="3.00" fill="none" stroke="#3fdc1f" stroke-width="1.0"/>
<line x1="435.00" y1="614.10" x2="435.00" y2="769.50" stroke="#000" stroke-width="1.8"/>
<line x1="434.10" y1="768.60" x2="627.20" y2="768.60" stroke="#000" stroke-width="1.8"/>
<line x1="428.20" y1="615.00" x2="435.00" y2="615.00" stroke="#000" stroke-width="1.8"/>
<line x1="428.20" y1="653.40" x2="435.00" y2="653.40" stroke="#000" stroke-width="1.8"/>
<line x1="428.20" y1="691.80" x2="435.00" y2="691.80" stroke="#000" stroke-width="1.8"/>
<line x1="428.20" y1="730.20" x2="435.00" y2="730.20" stroke="#000" stroke-width="1.8"/>
<line x1="428.20" y1="768.60" x2="435.00" y2="768.60" stroke="#000" stroke-width="1.8"/>
<line x1="473.30" y1="768.60" x2="473.30" y2="774.60" stroke="#000" stroke-width="1.8"/>
<line x1="530.70" y1="768.60" x2="530.70" y2="774.60" stroke="#000" stroke-width="1.8"/>
<line x1="587.80" y1="768.60" x2="587.80" y2="774.60" stroke="#000" stroke-width="1.8"/>
<text x="406.65" y="620.00" font-size="14">0.3</text>
<text x="406.74" y="658.40" font-size="14">0.2</text>
<text x="406.72" y="696.80" font-size="14">0.1</text>
<text x="406.58" y="735.20" font-size="14">0.0</text>
<text x="402.06" y="773.60" font-size="14">-0.1</text>
<text x="449.00" y="790.00" font-size="14" textLength="44.63" lengthAdjust="spacingAndGlyphs">Control</text>
<text x="520.60" y="790.00" font-size="14" textLength="19.96" lengthAdjust="spacingAndGlyphs">CD</text>
<text x="577.60" y="790.00" font-size="14" textLength="20.54" lengthAdjust="spacingAndGlyphs">UC</text>
<text x="0" y="0" font-size="14" transform="translate(394.90,725.03) rotate(-90)" textLength="69.44" lengthAdjust="spacingAndGlyphs">Abundance</text>
<text x="453.77" y="566.80" font-size="14" font-style="italic" class="lt" textLength="151.64" lengthAdjust="spacingAndGlyphs">Parabacteroides merdae</text>
<path d="M467.60,573.40 Q461.40,578.65 467.60,583.90" fill="none" stroke="#111" stroke-width="1.0"/>
<text x="473.00" y="582.80" font-size="14" class="lt" textLength="113.33" lengthAdjust="spacingAndGlyphs">PRISM-diagnosis</text>
<path d="M587.20,573.60 Q594.00,578.55 587.20,583.50" fill="none" stroke="#111" stroke-width="1.0"/>
<text x="460.98" y="603.90" font-size="14" textLength="38.40" lengthAdjust="spacingAndGlyphs">37.5%</text>
<text x="461.08" y="619.10" font-size="14" textLength="33.59" lengthAdjust="spacingAndGlyphs">Zeros</text>
<text x="516.35" y="604.80" font-size="14" textLength="39.14" lengthAdjust="spacingAndGlyphs">53.4%</text>
<text x="516.47" y="620.20" font-size="14" textLength="34.31" lengthAdjust="spacingAndGlyphs">Zeros</text>
<text x="570.49" y="603.20" font-size="14" textLength="36.37" lengthAdjust="spacingAndGlyphs">51.3%</text>
<text x="570.61" y="618.80" font-size="14" textLength="31.54" lengthAdjust="spacingAndGlyphs">Zeros</text>
<rect x="456.40" y="727.40" width="33.80" height="4.00" rx="2.00" fill="#1f1fff"/>
<circle cx="457.60" cy="728.40" r="3.00" fill="none" stroke="#1f1fff" stroke-width="1.0"/>
<circle cx="459.85" cy="729.80" r="3.00" fill="none" stroke="#1f1fff" stroke-width="1.0"/>
<circle cx="462.10" cy="728.40" r="3.00" fill="none" stroke="#1f1fff" stroke-width="1.0"/>
<circle cx="464.35" cy="729.80" r="3.00" fill="none" stroke="#1f1fff" stroke-width="1.0"/>
<circle cx="466.60" cy="728.40" r="3.00" fill="none" stroke="#1f1fff" stroke-width="1.0"/>
<circle cx="468.85" cy="729.80" r="3.00" fill="none" stroke="#1f1fff" stroke-width="1.0"/>
<circle cx="471.10" cy="728.40" r="3.00" fill="none" stroke="#1f1fff" stroke-width="1.0"/>
<circle cx="473.35" cy="729.80" r="3.00" fill="none" stroke="#1f1fff" stroke-width="1.0"/>
<circle cx="475.60" cy="728.40" r="3.00" fill="none" stroke="#1f1fff" stroke-width="1.0"/>
<circle cx="477.85" cy="729.80" r="3.00" fill="none" stroke="#1f1fff" stroke-width="1.0"/>
<circle cx="480.10" cy="728.40" r="3.00" fill="none" stroke="#1f1fff" stroke-width="1.0"/>
<circle cx="482.35" cy="729.80" r="3.00" fill="none" stroke="#1f1fff" stroke-width="1.0"/>
<circle cx="484.60" cy="728.40" r="3.00" fill="none" stroke="#1f1fff" stroke-width="1.0"/>
<circle cx="486.85" cy="729.80" r="3.00" fill="none" stroke="#1f1fff" stroke-width="1.0"/>
<circle cx="489.10" cy="728.40" r="3.00" fill="none" stroke="#1f1fff" stroke-width="1.0"/>
<line x1="455.00" y1="728.40" x2="492.00" y2="728.40" stroke="#1f1fff" stroke-width="1.7"/>
<circle cx="473.30" cy="705.20" r="3.00" fill="none" stroke="#1f1fff" stroke-width="1.0"/>
<circle cx="472.50" cy="716.50" r="3.00" fill="none" stroke="#1f1fff" stroke-width="1.0"/>
<circle cx="474.00" cy="719.50" r="3.00" fill="none" stroke="#1f1fff" stroke-width="1.0"/>
<circle cx="459.50" cy="722.50" r="3.00" fill="none" stroke="#1f1fff" stroke-width="1.0"/>
<circle cx="468.50" cy="723.00" r="3.00" fill="none" stroke="#1f1fff" stroke-width="1.0"/>
<circle cx="486.00" cy="721.00" r="3.00" fill="none" stroke="#1f1fff" stroke-width="1.0"/>
<circle cx="476.50" cy="725.00" r="3.00" fill="none" stroke="#1f1fff" stroke-width="1.0"/>
<circle cx="490.00" cy="725.00" r="3.00" fill="none" stroke="#1f1fff" stroke-width="1.0"/>
<circle cx="464.00" cy="725.50" r="3.00" fill="none" stroke="#1f1fff" stroke-width="1.0"/>
<circle cx="481.00" cy="725.50" r="3.00" fill="none" stroke="#1f1fff" stroke-width="1.0"/>
<rect x="513.00" y="725.05" width="36.00" height="8.50" rx="4.25" fill="#ff2020"/>
<line x1="512.00" y1="726.40" x2="550.00" y2="726.40" stroke="#ff2020" stroke-width="1.7"/>
<circle cx="530.60" cy="629.40" r="3.00" fill="none" stroke="#ff2020" stroke-width="1.0"/>
<circle cx="530.60" cy="696.50" r="3.00" fill="none" stroke="#ff2020" stroke-width="1.0"/>
<circle cx="531.00" cy="699.50" r="3.00" fill="none" stroke="#ff2020" stroke-width="1.0"/>
<circle cx="531.00" cy="701.50" r="3.00" fill="none" stroke="#ff2020" stroke-width="1.0"/>
<circle cx="530.60" cy="703.00" r="3.00" fill="none" stroke="#ff2020" stroke-width="1.0"/>
<circle cx="531.00" cy="713.00" r="3.00" fill="none" stroke="#ff2020" stroke-width="1.0"/>
<circle cx="531.00" cy="716.00" r="3.00" fill="none" stroke="#ff2020" stroke-width="1.0"/>
<circle cx="531.00" cy="718.50" r="3.00" fill="none" stroke="#ff2020" stroke-width="1.0"/>
<circle cx="520.00" cy="724.50" r="3.00" fill="none" stroke="#ff2020" stroke-width="1.0"/>
<circle cx="540.00" cy="724.00" r="3.00" fill="none" stroke="#ff2020" stroke-width="1.0"/>
<circle cx="535.00" cy="722.50" r="3.00" fill="none" stroke="#ff2020" stroke-width="1.0"/>
<circle cx="526.00" cy="723.50" r="3.00" fill="none" stroke="#ff2020" stroke-width="1.0"/>
<circle cx="545.00" cy="725.50" r="3.00" fill="none" stroke="#ff2020" stroke-width="1.0"/>
<rect x="569.40" y="725.60" width="37.90" height="7.80" rx="3.90" fill="#3fdc1f"/>
<circle cx="588.20" cy="681.00" r="3.00" fill="none" stroke="#3fdc1f" stroke-width="1.0"/>
<circle cx="588.20" cy="712.20" r="3.00" fill="none" stroke="#3fdc1f" stroke-width="1.0"/>
<circle cx="588.20" cy="713.70" r="3.00" fill="none" stroke="#3fdc1f" stroke-width="1.0"/>
<circle cx="584.00" cy="722.50" r="3.00" fill="none" stroke="#3fdc1f" stroke-width="1.0"/>
<circle cx="591.00" cy="721.50" r="3.00" fill="none" stroke="#3fdc1f" stroke-width="1.0"/>
<circle cx="596.00" cy="723.00" r="3.00" fill="none" stroke="#3fdc1f" stroke-width="1.0"/>
<circle cx="600.00" cy="724.50" r="3.00" fill="none" stroke="#3fdc1f" stroke-width="1.0"/>
<circle cx="578.00" cy="724.50" r="3.00" fill="none" stroke="#3fdc1f" stroke-width="1.0"/>
<circle cx="592.00" cy="725.50" r="3.00" fill="none" stroke="#3fdc1f" stroke-width="1.0"/>
</g>
</svg>
</body></html>
